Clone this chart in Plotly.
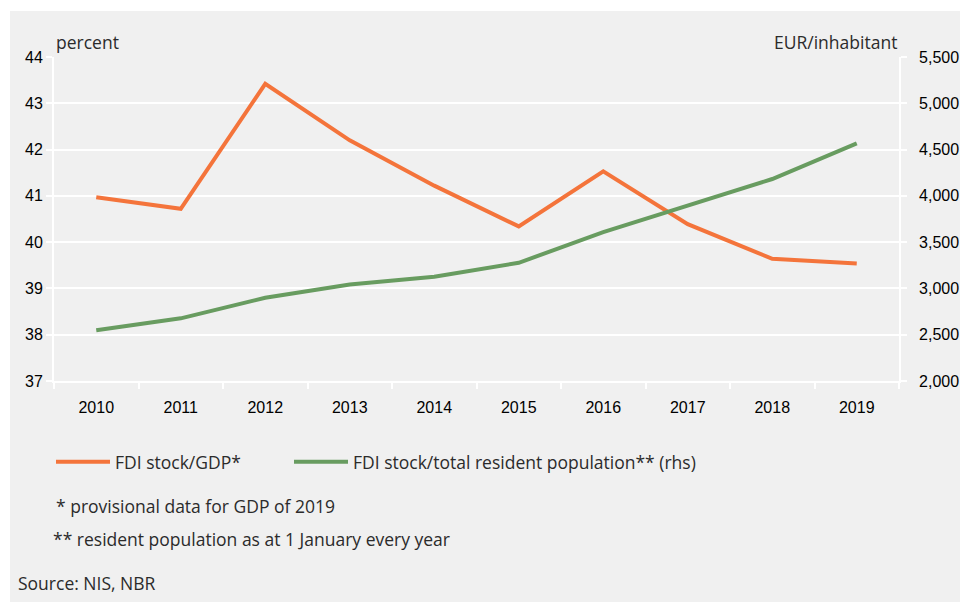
import plotly.graph_objects as go

# Data
years = ["2010", "2011", "2012", "2013", "2014", "2015", "2016", "2017", "2018", "2019"]
fdi_gdp = [40.97, 40.72, 43.42, 42.20, 41.22, 40.34, 41.53, 40.39, 39.64, 39.54]
fdi_per_capita = [2548, 2677, 2900, 3042, 3126, 3277, 3608, 3890, 4182, 4567]

left_ticks = [37, 38, 39, 40, 41, 42, 43, 44]
right_ticks = [2000, 2500, 3000, 3500, 4000, 4500, 5000, 5500]
# non-breaking spaces push the right-hand labels away from the axis line
right_tick_text = ["\u00a0\u00a0" + f"{v:,}" for v in right_ticks]

ORANGE = "#F4743B"
GREEN = "#689C60"
BG = "#F0F0F0"
TEXT = "#2B2B2B"
TICK_FONT = dict(family="Liberation Sans, Arial, sans-serif", size=16, color="#000000")
BODY_FONT = "Open Sans, Noto Sans, sans-serif"
BODY_SIZE = 17.5

fig = go.Figure()
fig.add_trace(go.Scatter(
    x=years, y=fdi_gdp, name="FDI stock/GDP*", mode="lines",
    line=dict(color=ORANGE, width=4), yaxis="y", legend="legend",
))
fig.add_trace(go.Scatter(
    x=years, y=fdi_per_capita, name="FDI stock/total resident population** (rhs)", mode="lines",
    line=dict(color=GREEN, width=4), yaxis="y2", legend="legend2",
))

legend_common = dict(
    orientation="h", xref="container", yref="container", y=0.2326, yanchor="middle",
    xanchor="left", font=dict(family=BODY_FONT, size=BODY_SIZE, color=TEXT),
    bgcolor="rgba(0,0,0,0)", itemwidth=54, itemclick=False, itemdoubleclick=False,
)

axis_common = dict(
    ticks="outside", ticklen=6, tickwidth=2, tickcolor="white",
    showline=True, linecolor="white", linewidth=2, tickfont=TICK_FONT,
    automargin=False,
)

fig.update_layout(
    width=960, height=602,
    margin=dict(l=54, r=61, t=57, b=221, autoexpand=False),
    paper_bgcolor="white",
    plot_bgcolor=BG,
    showlegend=True,
    legend=dict(x=51 / 960, **legend_common),
    legend2=dict(x=289 / 960, **legend_common),
    xaxis=dict(
        type="category", tickson="boundaries", showgrid=False,
        ticklabelstandoff=11, range=[-0.5, 9.5], **axis_common,
    ),
    yaxis=dict(
        range=[37, 44], tickvals=left_ticks, gridcolor="white", gridwidth=2,
        zeroline=False, **axis_common,
    ),
    yaxis2=dict(
        range=[2000, 5500], tickvals=right_ticks, ticktext=right_tick_text,
        overlaying="y", side="right", showgrid=False, zeroline=False,
        ticklabeloverflow="allow", **axis_common,
    ),
    shapes=[
        dict(type="rect", xref="paper", yref="paper", x0=-0.0521, x1=1.2, y0=-1.0, y1=1.142,
             fillcolor=BG, line=dict(width=0), layer="below"),
    ],
    annotations=[
        dict(text="percent", xref="paper", yref="paper", x=0.0, y=1.046, xanchor="left",
             yanchor="middle", showarrow=False, font=dict(family=BODY_FONT, size=BODY_SIZE, color=TEXT)),
        dict(text="EUR/inhabitant", xref="paper", yref="paper", x=1.0, y=1.046, xanchor="right",
             yanchor="middle", showarrow=False, font=dict(family=BODY_FONT, size=BODY_SIZE, color=TEXT)),
        dict(text="* provisional data for GDP of 2019", xref="paper", yref="paper",
             x=0.0, y=-0.386, xanchor="left", yanchor="middle", showarrow=False,
             font=dict(family=BODY_FONT, size=BODY_SIZE, color=TEXT)),
        dict(text="** resident population as at 1 January every year", xref="paper", yref="paper",
             x=-0.0036, y=-0.488, xanchor="left", yanchor="middle", showarrow=False,
             font=dict(family=BODY_FONT, size=BODY_SIZE, color=TEXT)),
        dict(text="Source: NIS, NBR", xref="paper", yref="paper",
             x=-0.045, y=-0.623, xanchor="left", yanchor="middle", showarrow=False,
             font=dict(family=BODY_FONT, size=BODY_SIZE, color=TEXT)),
    ],
)

fig.write_html("out.html")
